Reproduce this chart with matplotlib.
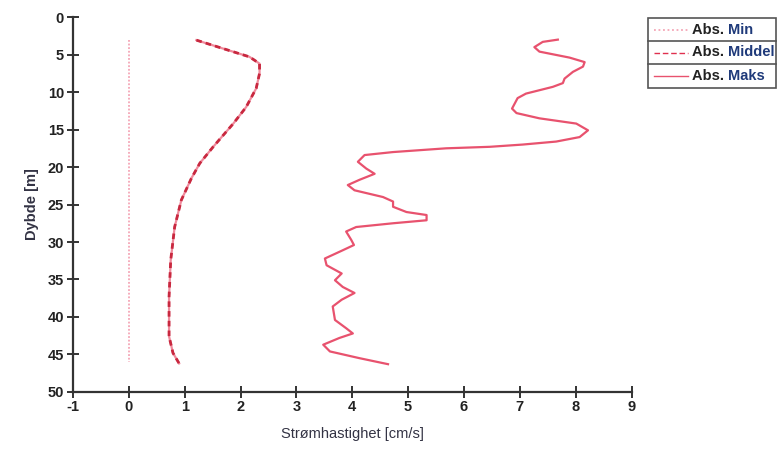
import numpy as np
import matplotlib.pyplot as plt
from matplotlib.lines import Line2D
from matplotlib.patches import Rectangle

plt.rcParams['font.family'] = ['Liberation Sans', 'DejaVu Sans']
plt.rcParams['axes.unicode_minus'] = False

# current speed profiles (cm/s) against depth (m)
min_depth = [3, 10, 20, 30, 40, 46]
min_speed = [0, 0, 0, 0, 0, 0]

mid_depth = [3.07, 4.2, 5.3, 6.2, 7.5, 9.5, 12.0, 14.2, 17.3, 19.5, 21.5, 24.4, 28.0,
             32.4, 37.3, 42.6, 44.8, 46.2]
mid_speed = [1.21, 1.69, 2.16, 2.34, 2.34, 2.28, 2.10, 1.87, 1.51, 1.27, 1.12, 0.94, 0.82,
             0.75, 0.72, 0.72, 0.79, 0.90]

max_depth = [3.0, 3.3, 4.0, 4.6, 5.4, 6.0, 6.6, 7.3, 8.2, 8.8, 9.3, 10.2, 10.8, 12.2,
             12.8, 13.5, 14.2, 15.1, 16.0, 16.6, 17.0, 17.3, 17.5, 18.0, 18.4, 19.3,
             20.2, 20.9, 21.7, 22.4, 23.1, 24.0, 24.6, 25.3, 26.0, 26.4, 27.1, 27.5,
             28.0, 28.6, 29.7, 30.4, 31.1, 32.2, 33.1, 34.2, 35.1, 36.0, 36.8, 37.7,
             38.6, 40.4, 41.5, 42.2, 42.8, 43.7, 44.6, 45.5, 46.3]
max_speed = [7.68, 7.41, 7.26, 7.35, 7.89, 8.16, 8.13, 7.95, 7.80, 7.77, 7.59, 7.11, 6.96, 6.86,
             6.94, 7.35, 8.01, 8.22, 8.07, 7.65, 7.05, 6.46, 5.68, 4.73, 4.22, 4.10,
             4.25, 4.40, 4.13, 3.92, 4.04, 4.55, 4.73, 4.73, 4.97, 5.33, 5.33, 4.73,
             4.07, 3.89, 3.98, 4.03, 3.83, 3.51, 3.54, 3.81, 3.69, 3.83, 4.04, 3.81,
             3.65, 3.69, 3.89, 4.01, 3.77, 3.48, 3.60, 4.13, 4.64]

x_ticks = list(range(-1, 10))
y_ticks = list(range(0, 55, 5))

fig = plt.figure(figsize=(7.78, 4.51), dpi=100)
ax = fig.add_axes([0.0938, 0.131, 0.718, 0.831])

ax.plot(min_speed, min_depth, color='#f4a6b6', lw=1.3, linestyle=(0, (1, 1)))
ax.plot(mid_speed, mid_depth, color='#f08a9c', lw=1.6)
ax.plot(mid_speed, mid_depth, color='#c8283f', lw=2.0, linestyle=(0, (2.0, 1.5)))
ax.plot(max_speed, max_depth, color='#e8526e', lw=1.6, solid_joinstyle='round')

ax.set_xlim(-1, 9)
ax.set_ylim(50, 0)
ax.set_xticks(x_ticks)
ax.set_yticks(y_ticks)
ax.spines['top'].set_visible(False)
ax.spines['right'].set_visible(False)
for s in ('left', 'bottom'):
    ax.spines[s].set_color('#333333')
    ax.spines[s].set_linewidth(1.6)
ax.tick_params(direction='inout', length=9, width=1.4, color='#333333',
               labelsize=10.5, labelcolor='#222222')
for lab in ax.get_xticklabels() + ax.get_yticklabels():
    lab.set_fontweight('bold')
ax.tick_params(axis='x', pad=1)
ax.tick_params(axis='y', pad=2)

ax.set_xlabel('Strømhastighet [cm/s]', fontsize=10.5, color='#333344', labelpad=10)
ax.set_ylabel('Dybde [m]', fontsize=10.5, color='#333344', fontweight='bold', labelpad=6)

# legend drawn as a small table
W, H = 778, 451
lx0, lx1 = 648 / W, 776 / W
rows = [18, 41, 64, 88]
fig.add_artist(Rectangle((lx0, 1 - rows[-1] / H), lx1 - lx0, (rows[-1] - rows[0]) / H,
                         transform=fig.transFigure, fill=False, ec='#555555', lw=1.2))
for r in rows[1:-1]:
    fig.add_artist(Line2D([lx0, lx1], [1 - r / H, 1 - r / H], transform=fig.transFigure,
                          color='#555555', lw=1.2))

handles = [('#f4a6b6', (0, (1, 1.5)), 1.3, 'Min'),
           ('#e0304f', (0, (4, 2)), 1.0, 'Middel'),
           ('#e8526e', '-', 1.0, 'Maks')]
for i, (col, ls, lw, word) in enumerate(handles):
    yc = 1 - (rows[i] + rows[i + 1]) / 2 / H
    fig.add_artist(Line2D([654 / W, 688 / W], [yc, yc], transform=fig.transFigure,
                          color=col, linestyle=ls, lw=lw))
    t = fig.text(692 / W, yc, 'Abs. ', fontsize=10.5, fontweight='bold',
                 color='#222222', va='center')
    ax.annotate(word, xy=(1, 0.5), xycoords=t, va='center', ha='left',
                fontsize=10.5, fontweight='bold', color='#1f3a7a',
                annotation_clip=False)

fig.savefig('out.png', dpi=100)
